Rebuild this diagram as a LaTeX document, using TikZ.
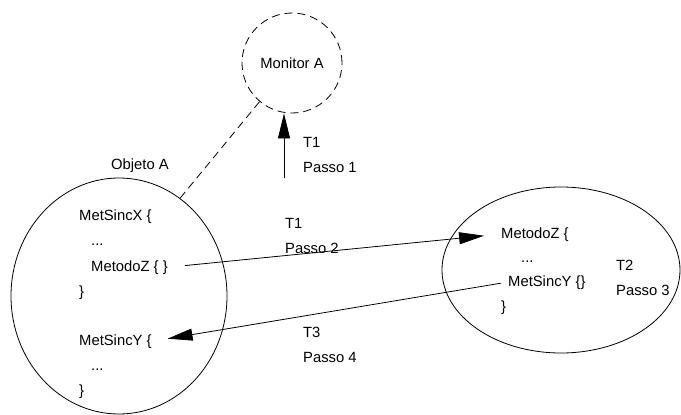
\documentclass[tikz,border=0pt]{standalone}
\usepackage{fontspec}
\setmainfont{Liberation Sans}
\usetikzlibrary{shapes.geometric,arrows.meta}

\tikzset{
ObjectShape/.style={draw=black, ellipse, inner sep=0pt, line width=0.8pt},
MonitorShape/.style={draw=black, circle, inner sep=0pt, minimum size=100pt,
        dash pattern=on 8pt off 5pt, line width=0.8pt},
CodeText/.style={anchor=base west, inner sep=1pt},
StepText/.style={anchor=base west, inner sep=1pt},
CallLine/.style={arrows={-Triangle[length=25pt,width=12pt]},draw=black,line width=0.8pt},
LinkLine/.style={draw=black,line width=0.8pt,dash pattern=on 8pt off 5pt},
}

\begin{document}
\begin{tikzpicture}[x=1pt,y=-1pt,font=\fontsize{14.8}{17}\selectfont]
	\useasboundingbox (0,0) rectangle (681,415);

	\node[MonitorShape] (Mon) at (292,63) {Monitor A};
	\node[ObjectShape, minimum width=216pt, minimum height=236pt] (ObjA) at (119,296) {};
	\node[ObjectShape, minimum width=238pt, minimum height=166pt] (ObjB) at (561,270) {};
	\node (ObjALabel) at (140,166) {Objeto A};

	% codigo do Objeto A
	\node[CodeText] (A1) at (78,220) {MetSincX \{};
	\node[CodeText] (A2) at (90,245) {...};
	\node[CodeText] (A3) at (90,271) {MetodoZ \{ \}};
	\node[CodeText] (A4) at (78,296) {\}};
	\node[CodeText] (A5) at (78,345) {MetSincY \{};
	\node[CodeText] (A6) at (90,370) {...};
	\node[CodeText] (A7) at (78,395) {\}};

	% codigo do segundo objeto
	\node[CodeText] (B1) at (500,238) {MetodoZ \{};
	\node[CodeText] (B2) at (520,262) {...};
	\node[CodeText] (B3) at (507,286) {MetSincY \{\}};
	\node[CodeText] (B4) at (500,311) {\}};

	\node[StepText] (S1a) at (302,147) {T1};
	\node[StepText] (S1b) at (302,172) {Passo 1};
	\node[StepText] (S2a) at (284,228) {T1};
	\node[StepText] (S2b) at (284,253) {Passo 2};
	\node[StepText] (S3a) at (615,270) {T2};
	\node[StepText] (S3b) at (615,295) {Passo 3};
	\node[StepText] (S4a) at (302,337) {T3};
	\node[StepText] (S4b) at (302,362) {Passo 4};

	\coordinate (P1) at (284,178);
	\draw[CallLine] (P1) -- (P1 |- Mon.south);
	\draw[LinkLine] (ObjA.58) -- (Mon.230);
	\draw[CallLine, shorten <=16pt, shorten >=16pt] (A3.east) -- (B1.west);
	\draw[CallLine, shorten <=6pt, shorten >=15pt] (B3.west) -- (A5.east);
\end{tikzpicture}
\end{document}
